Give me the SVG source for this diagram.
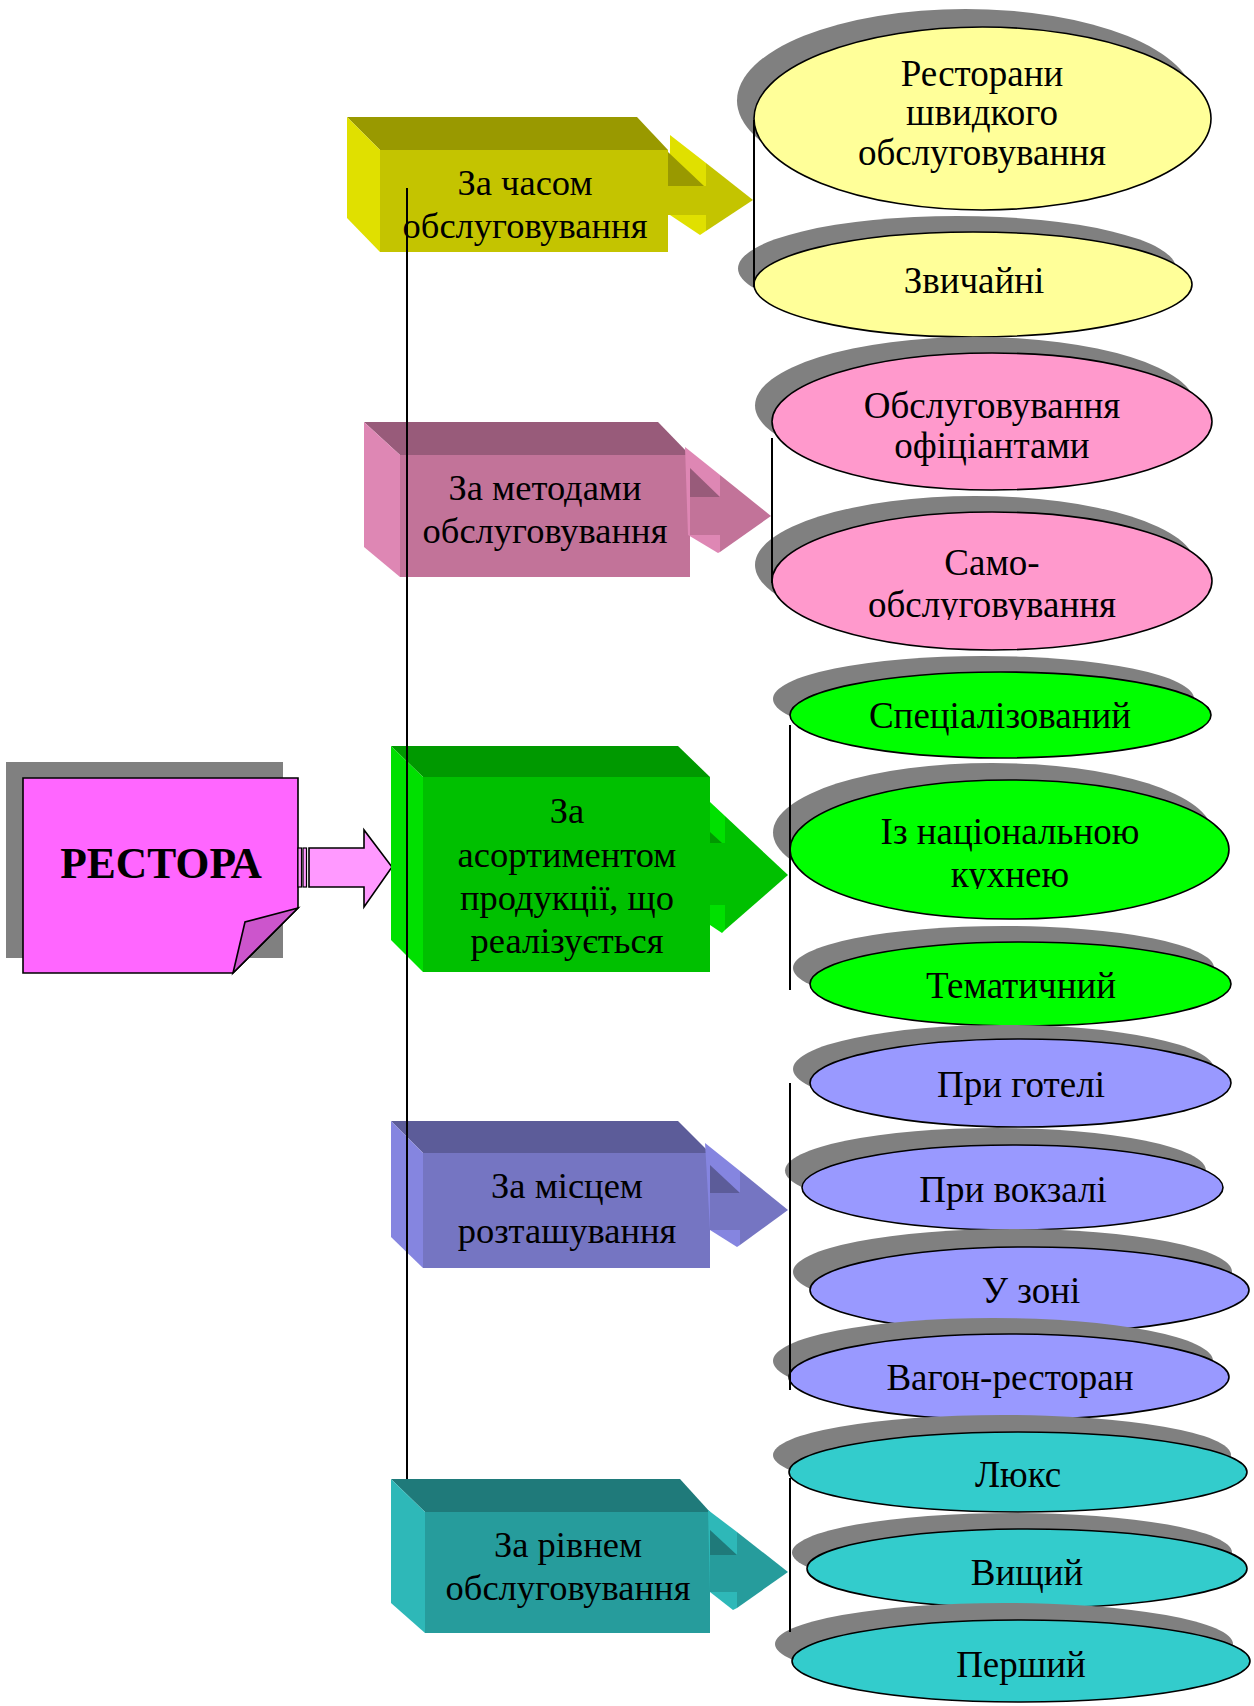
<svg xmlns="http://www.w3.org/2000/svg" width="1254" height="1706" viewBox="0 0 1254 1706">
<defs>
<style>
.t{font-family:"Liberation Serif","Times New Roman",serif;font-size:36.5px;fill:#000;text-anchor:middle}
.e{font-size:37px}
.b{font-weight:bold;font-size:43.5px}
.sh{fill:#808080}
.el{stroke:#000;stroke-width:1.6}
.ln{stroke:#000;stroke-width:2;fill:none}
.yf{fill:#C4C400}.yt{fill:#999900}.ys{fill:#E0E000}
.pf{fill:#C27399}.pt{fill:#985B7A}.ps{fill:#DE87B4}
.gf{fill:#00C000}.gt{fill:#009900}.gs{fill:#00E000}
.vf{fill:#7575C2}.vt{fill:#5C5C99}.vs{fill:#8585E0}
.cf{fill:#269C9C}.ct{fill:#1F7A7A}.cs{fill:#2EB8B8}
.ey{fill:#FFFF99}.ep{fill:#FF99CC}.eg{fill:#00FF00}.ev{fill:#9999FF}.ec{fill:#33CCCC}
</style>
<clipPath id="c1"><rect x="700" y="540" width="554" height="80"/></clipPath>
<clipPath id="c2"><rect x="700" y="800" width="554" height="89"/></clipPath>
</defs>
<rect width="1254" height="1706" fill="#fff"/>

<g id="root">
<rect class="sh" x="6" y="762" width="277" height="196"/>
<polygon points="23,778 298,778 298,908 233,973 23,973" fill="#FF66FF" stroke="#000" stroke-width="1.6"/>
<polygon points="298,908 245,922 233,973" fill="#CC55CC" stroke="#000" stroke-width="1.6"/>
<text class="t b" x="161" y="878">РЕСТОРА</text>
</g>

<g id="root-arrow">
<rect x="298" y="848" width="3.5" height="39" fill="#FF99FF" stroke="#000" stroke-width="1.2"/>
<rect x="303" y="848" width="3.5" height="39" fill="#FF99FF" stroke="#000" stroke-width="1.2"/>
<polygon points="309,848 364,848 364,830 392,867 364,907 364,887 309,887" fill="#FF99FF" stroke="#000" stroke-width="1.6"/>
</g>

<g id="box-time">
<polygon class="yt" points="347,117 637,117 668,150 380,150"/>
<polygon class="ys" points="347,117 380,150 380,252 347,218"/>
<rect class="yf" x="380" y="150" width="288" height="102"/>
<polygon class="ys" points="670,135 706,163 706,231 700,235 670,215"/>
<polygon class="yt" points="668,152 704,186 668,186"/>
<rect class="yf" x="668" y="186" width="38" height="29"/>
<polygon class="yf" points="706,163 753,200 706,231"/>
<text class="t" x="525" y="195">За часом</text>
<text class="t" x="525" y="238">обслуговування</text>
</g>

<g id="box-method">
<polygon class="pt" points="364,422 658,422 690,455 400,455"/>
<polygon class="ps" points="364,422 400,455 400,577 364,547"/>
<rect class="pf" x="400" y="455" width="290" height="122"/>
<polygon class="ps" points="685,447 720,475 720,552 718,553 688,535"/>
<polygon class="pt" points="690,468 720,497 690,497"/>
<rect class="pf" x="690" y="497" width="30" height="38"/>
<polygon class="pf" points="720,475 771,516 720,552"/>
<text class="t" x="545" y="500">За методами</text>
<text class="t" x="545" y="543">обслуговування</text>
</g>

<g id="box-assort">
<polygon class="gt" points="391,746 678,746 710,777 423,777"/>
<polygon class="gs" points="391,746 423,777 423,972 391,940"/>
<rect class="gf" x="423" y="777" width="287" height="195"/>
<polygon class="gs" points="710,802 725,816 725,930 722,933 710,925"/>
<polygon class="gt" points="710,832 722,843 710,843"/>
<rect class="gf" x="710" y="843" width="15" height="62"/>
<polygon class="gf" points="725,816 788,875 725,930"/>
<text class="t" x="567" y="823">За</text>
<text class="t" x="567" y="867">асортиментом</text>
<text class="t" x="567" y="910">продукції, що</text>
<text class="t" x="567" y="953">реалізується</text>
</g>

<g id="box-place">
<polygon class="vt" points="391,1121 678,1121 710,1153 423,1153"/>
<polygon class="vs" points="391,1121 423,1153 423,1268 391,1237"/>
<rect class="vf" x="423" y="1153" width="287" height="115"/>
<polygon class="vs" points="705,1143 740,1171 740,1245 737,1247 710,1230"/>
<polygon class="vt" points="710,1165 740,1193 710,1193"/>
<rect class="vf" x="710" y="1193" width="30" height="37"/>
<polygon class="vf" points="740,1171 788,1210 740,1245"/>
<text class="t" x="567" y="1198">За місцем</text>
<text class="t" x="567" y="1243">розташування</text>
</g>

<g id="box-level">
<polygon class="ct" points="391,1479 680,1479 710,1512 425,1512"/>
<polygon class="cs" points="391,1479 425,1512 425,1633 391,1603"/>
<rect class="cf" x="425" y="1512" width="285" height="121"/>
<polygon class="cs" points="708,1510 737,1532 737,1608 733,1610 710,1592"/>
<polygon class="ct" points="710,1530 737,1555 710,1555"/>
<rect class="cf" x="710" y="1555" width="27" height="37"/>
<polygon class="cf" points="737,1532 788,1572 737,1608"/>
<text class="t" x="568" y="1557">За рівнем</text>
<text class="t" x="568" y="1600">обслуговування</text>
</g>

<g id="e1">
<ellipse class="sh" cx="965.5" cy="100.5" rx="228.5" ry="91.5"/>
<ellipse class="el ey" cx="982.5" cy="118.5" rx="228.5" ry="91.5"/>
<text class="t e" x="982" y="86">Ресторани</text>
<text class="t e" x="982" y="125">швидкого</text>
<text class="t e" x="982" y="165">обслуговування</text>
</g>
<g id="e2">
<ellipse class="sh" cx="957" cy="268.5" rx="219" ry="52.5"/>
<ellipse class="el ey" cx="973" cy="284.5" rx="219" ry="52.5"/>
<text class="t e" x="974" y="293">Звичайні</text>
</g>
<g id="e3">
<ellipse class="sh" cx="975" cy="405.5" rx="220" ry="68.5"/>
<ellipse class="el ep" cx="992" cy="421.5" rx="220" ry="68.5"/>
<text class="t e" x="992" y="418">Обслуговування</text>
<text class="t e" x="992" y="458">офіціантами</text>
</g>
<g id="e4">
<ellipse class="sh" cx="975" cy="565" rx="220" ry="69"/>
<ellipse class="el ep" cx="992" cy="581" rx="220" ry="69"/>
<text class="t e" x="992" y="575">Само-</text>
<text class="t e" x="992" y="617" clip-path="url(#c1)">обслуговування</text>
</g>
<g id="e5">
<ellipse class="sh" cx="983.5" cy="699" rx="210.5" ry="43"/>
<ellipse class="el eg" cx="1000.5" cy="715" rx="210.5" ry="43"/>
<text class="t e" x="1000" y="728">Спеціалізований</text>
</g>
<g id="e6">
<ellipse class="sh" cx="992.5" cy="832.5" rx="219.5" ry="69.5"/>
<ellipse class="el eg" cx="1009.5" cy="849.5" rx="219.5" ry="69.5"/>
<text class="t e" x="1010" y="844">Із національною</text>
<text class="t e" x="1010" y="887" clip-path="url(#c2)">кухнею</text>
</g>
<g id="e7">
<ellipse class="sh" cx="1003.5" cy="968" rx="210.5" ry="42"/>
<ellipse class="el eg" cx="1020.5" cy="984" rx="210.5" ry="42"/>
<text class="t e" x="1021" y="998">Тематичний</text>
</g>
<g id="e8">
<ellipse class="sh" cx="1003.5" cy="1069" rx="210.5" ry="44"/>
<ellipse class="el ev" cx="1020.5" cy="1083" rx="210.5" ry="44"/>
<text class="t e" x="1021" y="1097">При готелі</text>
</g>
<g id="e9">
<ellipse class="sh" cx="995.5" cy="1170.5" rx="210.5" ry="42.5"/>
<ellipse class="el ev" cx="1012.5" cy="1187.5" rx="210.5" ry="42.5"/>
<text class="t e" x="1013" y="1202">При вокзалі</text>
</g>
<g id="e10">
<ellipse class="sh" cx="1012.5" cy="1272" rx="219.5" ry="43"/>
<ellipse class="el ev" cx="1029.5" cy="1290" rx="219.5" ry="43"/>
<text class="t e" x="1031" y="1303">У зоні</text>
</g>
<g id="e11">
<ellipse class="sh" cx="993" cy="1361" rx="220" ry="43"/>
<ellipse class="el ev" cx="1009" cy="1377" rx="220" ry="43"/>
<text class="t e" x="1010" y="1390">Вагон-ресторан</text>
</g>
<g id="e12">
<ellipse class="sh" cx="1002" cy="1455" rx="229" ry="40"/>
<ellipse class="el ec" cx="1018" cy="1472" rx="229" ry="40"/>
<text class="t e" x="1018" y="1487">Люкс</text>
</g>
<g id="e13">
<ellipse class="sh" cx="1012" cy="1552.5" rx="220" ry="39.5"/>
<ellipse class="el ec" cx="1027" cy="1568.5" rx="220" ry="39.5"/>
<text class="t e" x="1027" y="1585">Вищий</text>
</g>
<g id="e14">
<ellipse class="sh" cx="1004" cy="1644" rx="229" ry="41"/>
<ellipse class="el ec" cx="1021" cy="1661" rx="229" ry="41"/>
<text class="t e" x="1021" y="1677">Перший</text>
</g>

<g id="connectors">
<line class="ln" x1="407" y1="188" x2="407" y2="1479"/>
<line class="ln" x1="754" y1="120" x2="754" y2="287" stroke-width="1.6"/>
<line class="ln" x1="772" y1="438" x2="772" y2="583" stroke-width="1.6"/>
<line class="ln" x1="790" y1="725" x2="790" y2="990" stroke-width="1.6"/>
<line class="ln" x1="790" y1="1083" x2="790" y2="1390" stroke-width="1.6"/>
<line class="ln" x1="790" y1="1478" x2="790" y2="1632" stroke-width="1.6"/>
</g>
</svg>
